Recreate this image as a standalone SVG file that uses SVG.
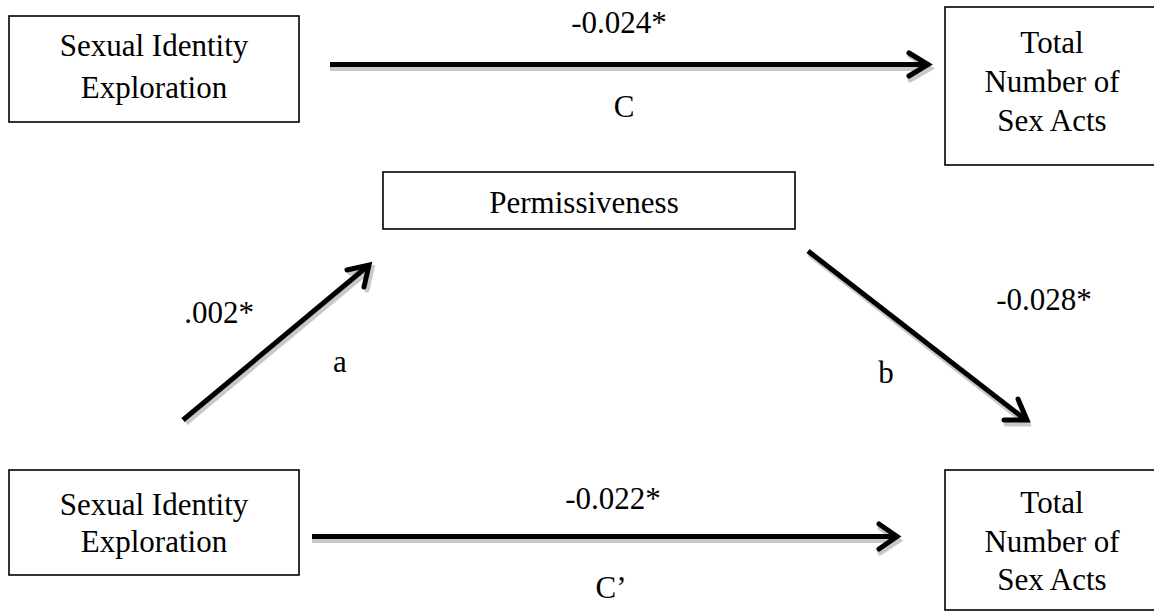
<svg xmlns="http://www.w3.org/2000/svg" width="1154" height="612" viewBox="0 0 1154 612">
<style>
.box{fill:#fff;stroke:#000;stroke-width:1.6}
.t{font-family:"Liberation Serif","Times New Roman",serif;font-size:31px;fill:#000;text-anchor:middle}
.ln{fill:none;stroke:#000;stroke-width:5;stroke-linecap:butt}
.sh{fill:none;stroke:#c8c8c8;stroke-width:5}
.hd{fill:none;stroke:#000;stroke-width:5;stroke-linecap:round;stroke-linejoin:miter}
.hs{fill:none;stroke:#c8c8c8;stroke-width:5;stroke-linecap:round}
</style>
<rect width="1154" height="612" fill="#fff"/>
<g id="node-sie-top">
<rect class="box" x="9" y="16" width="290" height="106"/>
<text class="t" x="154" y="56">Sexual Identity</text>
<text class="t" x="154" y="98">Exploration</text>
</g>
<g id="node-total-top">
<rect class="box" x="945" y="7" width="215" height="158"/>
<text class="t" x="1052" y="53">Total</text>
<text class="t" x="1052" y="92">Number of</text>
<text class="t" x="1052" y="131">Sex Acts</text>
</g>
<g id="node-perm">
<rect class="box" x="383" y="172" width="412" height="57"/>
<text class="t" x="584" y="213">Permissiveness</text>
</g>
<g id="node-sie-bottom">
<rect class="box" x="9" y="470" width="290" height="105"/>
<text class="t" x="154" y="515">Sexual Identity</text>
<text class="t" x="154" y="552">Exploration</text>
</g>
<g id="node-total-bottom">
<rect class="box" x="945" y="470" width="215" height="140"/>
<text class="t" x="1052" y="513">Total</text>
<text class="t" x="1052" y="552">Number of</text>
<text class="t" x="1052" y="590">Sex Acts</text>
</g>
<g id="connectors">
<!-- c path -->
<path class="sh" d="M330 68.5 H927"/>
<path class="hs" d="M910 56 L930 68.5 L910 80"/>
<path class="ln" d="M330 64.5 H927"/>
<path class="hd" d="M909 53 L928 64.5 L909 76"/>
<!-- c' path -->
<path class="sh" d="M312 540.5 H896"/>
<path class="hs" d="M880 528 L899 540.5 L880 553"/>
<path class="ln" d="M312 536.5 H896"/>
<path class="hd" d="M879 524 L897 536.5 L879 549"/>
<!-- a path -->
<path class="sh" d="M186 423 L372 268"/>
<path class="hs" d="M350 273 L372 268 L367 290"/>
<path class="ln" d="M183 420 L369 265"/>
<path class="hd" d="M347 270 L369 265 L364 287"/>
<!-- b path -->
<path class="sh" d="M809 254 L1027 424"/>
<path class="hs" d="M1019 403 L1028 424 L1006 424"/>
<path class="ln" d="M808 251 L1026 420"/>
<path class="hd" d="M1018 399 L1027 420 L1004 420"/>
</g>
<g id="labels">
<text class="t" x="619" y="33">-0.024*</text>
<text class="t" x="624" y="117">C</text>
<text class="t" x="219" y="323">.002*</text>
<text class="t" x="340" y="372">a</text>
<text class="t" x="1044" y="310">-0.028*</text>
<text class="t" x="886" y="383">b</text>
<text class="t" x="613" y="509">-0.022*</text>
<text class="t" x="611" y="598">C’</text>
</g>
</svg>
